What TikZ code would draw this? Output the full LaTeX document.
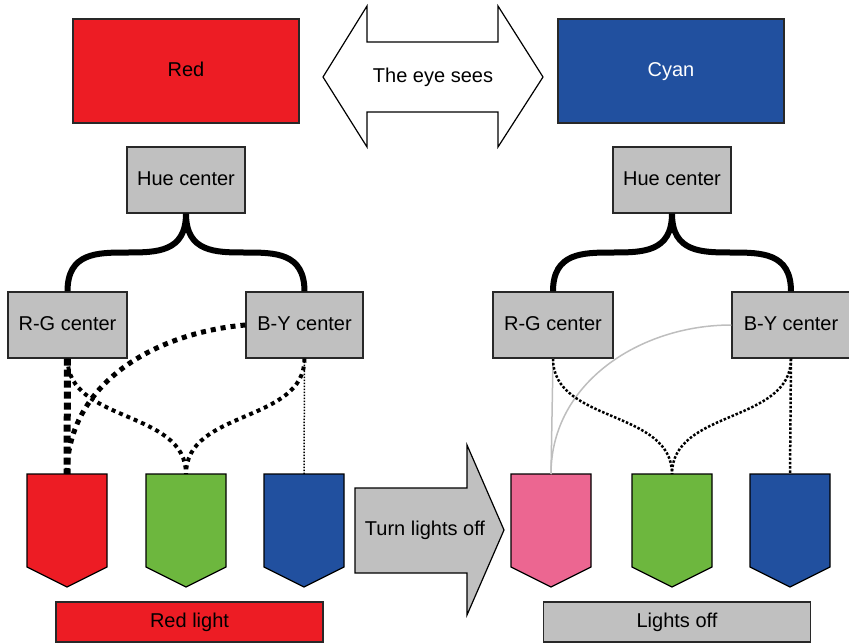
\documentclass[tikz,border=0pt]{standalone}
\usepackage{fontspec}
\setmainfont{Liberation Sans}
\usepackage{tikz}
\definecolor{redfill}{RGB}{237,28,36}
\definecolor{bluefill}{RGB}{33,80,159}
\definecolor{greenfill}{RGB}{109,183,62}
\definecolor{pinkfill}{RGB}{236,102,145}
\definecolor{boxgray}{RGB}{192,192,192}
\definecolor{linegray}{RGB}{190,190,190}
\definecolor{edgedark}{RGB}{40,40,40}

\begin{document}
\begin{tikzpicture}[x=1pt,y=-1pt,font=\fontsize{20}{24}\selectfont]
\useasboundingbox (0,0) rectangle (849,643);

% what the eye sees
\begin{scope}[every node/.style={rectangle,draw=edgedark,line width=1.2pt,minimum width=226pt,minimum height=104pt,
              text height=15pt,text depth=4pt}]
    \node[fill=redfill] (seeRed) at (186,71) {Red};
    \node[fill=bluefill,text=white] (seeCyan) at (671,71) {Cyan};
\end{scope}
\draw[line width=1.2pt,fill=white] (323,77) -- (367,6) -- (367,42) -- (498,42) -- (498,6) -- (543,77)
    -- (498,147) -- (498,112) -- (367,112) -- (367,147) -- cycle;
\node (eyeSees) at (433,77) {The eye sees};

% centers
\begin{scope}[every node/.style={rectangle,draw=edgedark,line width=1.2pt,fill=boxgray,minimum height=66pt,inner sep=2pt,
              text height=15pt,text depth=4pt}]
    \node[minimum width=118pt] (hueL) at (186,180) {Hue center};
    \node[minimum width=119pt] (rgL) at (67.5,325) {R-G center};
    \node[minimum width=117pt] (byL) at (304.5,325) {B-Y center};
    \node[minimum width=118pt] (hueR) at (672,180) {Hue center};
    \node[minimum width=120pt] (rgR) at (553,325) {R-G center};
    \node[minimum width=118pt] (byR) at (791,325) {B-Y center};
\end{scope}

% lights
\foreach \x/\c/\n in {67/redfill/lightR,186/greenfill/lightG,304/bluefill/lightB,
                      551/pinkfill/offR,672/greenfill/offG,790/bluefill/offB} {
    \draw[line width=1.2pt,fill=\c] (\x-40,474) -- (\x+40,474) -- (\x+40,567) -- (\x,587) -- (\x-40,567) -- cycle;
    \coordinate (\n) at (\x,474);
}

\draw[line width=1.2pt,fill=boxgray] (355,488) -- (467,488) -- (467,445) -- (504,530) -- (467,615)
    -- (467,573) -- (355,573) -- cycle;
\node (turnOff) at (425,530) {Turn lights off};

\begin{scope}[every node/.style={rectangle,draw=edgedark,line width=1.2pt,minimum width=267pt,minimum height=40pt,
              text height=15pt,text depth=4pt}]
    \node[fill=redfill] (redLight) at (189.5,622) {Red light};
    \node[fill=boxgray] (lightsOff) at (677,622) {Lights off};
\end{scope}

% pathways
\begin{scope}[every edge/.style={draw=black,line width=6pt,out=-90,in=90,looseness=1.4}]
    \path (hueL.south) edge (rgL.north) edge (byL.north);
    \path (hueR.south) edge (rgR.north) edge (byR.north);
\end{scope}

\begin{scope}[every edge/.style={draw=black},
              heavydots/.style={line width=7pt,dash pattern=on 7pt off 4pt},
              thickdots/.style={line width=5pt,dash pattern=on 5pt off 5pt},
              middots/.style={line width=4pt,dash pattern=on 4pt off 4pt},
              smalldots/.style={line width=2.5pt,dash pattern=on 2.5pt off 1.8pt},
              thindots/.style={line width=1.5pt,dash pattern=on 1.5pt off 1.5pt},
              offline/.style={draw=linegray,line width=1.5pt}]
    \path (rgL.south) edge[heavydots] (lightR);
    \path (byL.west) edge[thickdots,out=185,in=90] (lightR);
    \path (rgL.south) edge[middots,out=-90,in=90] (lightG);
    \path (byL.south) edge[middots,out=-90,in=90] (lightG);
    \path (byL.south) edge[thindots] (lightB);

    \path (rgR.south) edge[offline] (offR);
    \path (byR.west) edge[offline,out=180,in=90] (offR);
    \path (rgR.south) edge[smalldots,out=-90,in=90] (offG);
    \path (byR.south) edge[smalldots,out=-90,in=90] (offG);
    \path (byR.south) edge[smalldots] (offB);
\end{scope}
\end{tikzpicture}
\end{document}
